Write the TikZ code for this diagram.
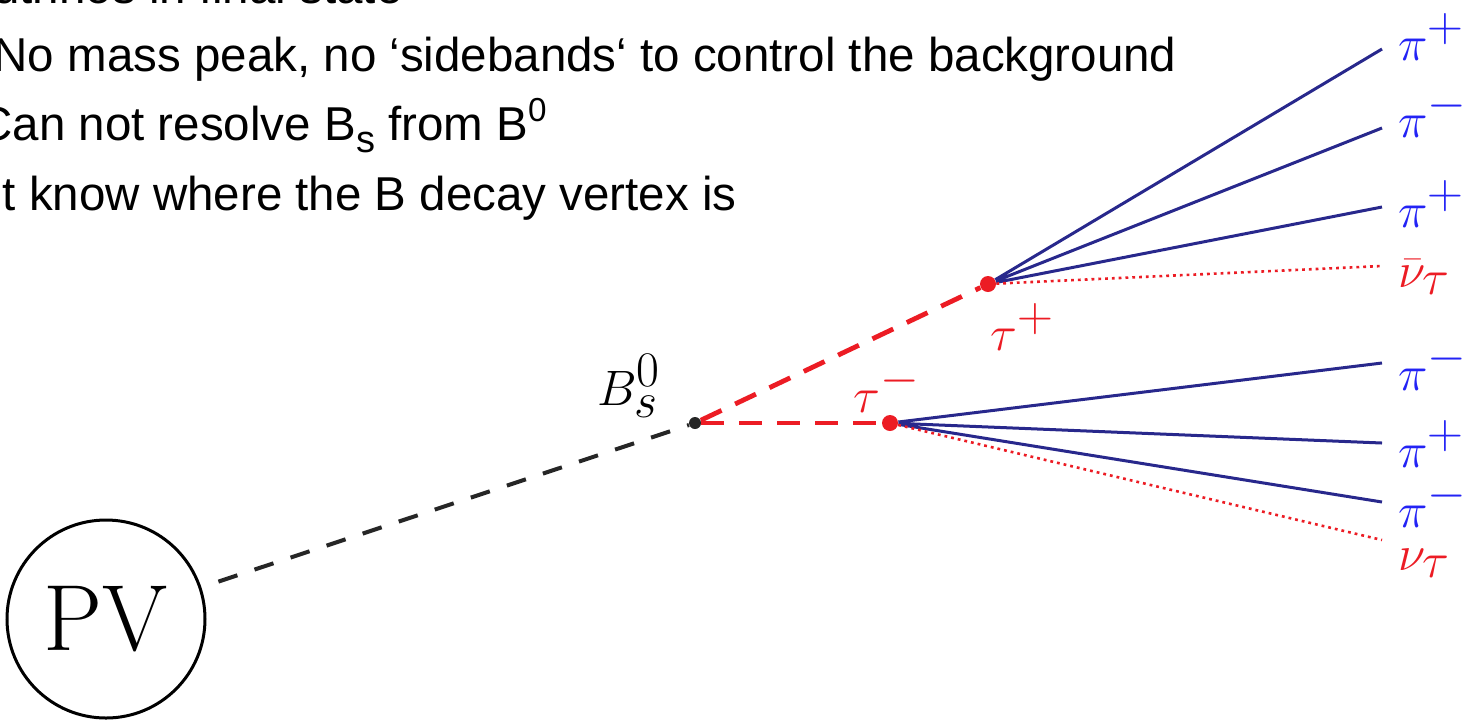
\documentclass[tikz,border=0pt]{standalone}
\usepackage{fontspec}
\newfontfamily\slidefont{Liberation Sans}
\definecolor{taured}{RGB}{236,28,36}
\definecolor{pionblue}{RGB}{35,35,245}
\definecolor{trackblue}{RGB}{40,40,140}
\tikzset{math/.style = {execute at begin node=$, execute at end node=$}}
\tikzset{slide/.style = {font=\slidefont\fontsize{23.75}{28}\selectfont, inner sep=0pt, anchor=base east},
  pion/.style = {math, font=\fontsize{35}{40}\selectfont, text=pionblue, inner sep=0pt, anchor=base west},
  nu/.style = {pion, text=taured},
  taulbl/.style = {math, font=\fontsize{36}{42}\selectfont, text=taured, inner sep=0pt, anchor=base west},
  vtx/.style = {circle, inner sep=0pt, minimum size=8pt},
  track/.style = {trackblue, line width=1.5pt},
  nutrack/.style = {taured, line width=1.3pt, dash pattern=on 1.4pt off 2pt},
  taudash/.style = {taured, line width=2.4pt, dash pattern=on 11.5pt off 7.5pt},
  bdash/.style = {black!85, line width=2pt, dash pattern=on 10pt off 9pt}}
\newcommand{\lowsub}[1]{\raisebox{-6pt}{\fontsize{19}{20}\selectfont #1}}

\begin{document}
\begin{tikzpicture}[x=0.5pt, y=-0.5pt]
  \useasboundingbox (0,0) rectangle (1470,719);
  \clip (0,0) rectangle (1470,719);
  \node[slide] (line1) at (403,3) {neutrinos in final state};
  \node[slide] (line2) at (1177,71) {No mass peak, no ‘sidebands‘ to control the background};
  \node[slide] (line3) at (548,140) {Can not resolve B\lowsub{s} from B\textsuperscript{0}};
  \node[slide] (line4) at (737,210) {t know where the B decay vertex is};

  \node[draw, circle, line width=1.5pt, minimum size=99pt, inner sep=0pt,
    font=\fontsize{47}{50}\selectfont] (pv) at (106,619) {PV};
  \node[vtx, fill=black!85, minimum size=6pt] (bs) at (695,423) {};
  \node[vtx, fill=taured] (taum) at (890,423) {};
  \node[vtx, fill=taured] (taup) at (988,284) {};
  \node[taulbl] (bslbl) at (597,405) {\textcolor{black}{B_s^0}};
  \node[taulbl] (taumlbl) at (853,412) {\tau^-};
  \node[taulbl] (tauplbl) at (990,350) {\tau^+};

  \draw[bdash, shorten <=9pt] (pv) -- (bs);
  \draw[taudash] (bs) -- (taup);
  \draw[taudash] (bs) -- (taum);

  \coordinate (e1) at (1382,49);
  \coordinate (e2) at (1382,128);
  \coordinate (e3) at (1382,207);
  \coordinate (e4) at (1382,266);
  \coordinate (e5) at (1382,363);
  \coordinate (e6) at (1382,443);
  \coordinate (e7) at (1382,502);
  \coordinate (e8) at (1382,540);
  \draw[track] (taup) -- (e1) (taup) -- (e2) (taup) -- (e3);
  \draw[nutrack] (taup) -- (e4);
  \draw[track] (taum) -- (e5) (taum) -- (e6) (taum) -- (e7);
  \draw[nutrack] (taum) -- (e8);

  \node[pion] (p1) at (1398,60) {\pi^+};
  \node[pion] (p2) at (1398,137) {\pi^-};
  \node[pion] (p3) at (1398,227) {\pi^+};
  \node[nu] (n1) at (1398,287) {\bar\nu_\tau};
  \node[pion] (p4) at (1398,390) {\pi^-};
  \node[pion] (p5) at (1398,467) {\pi^+};
  \node[pion] (p6) at (1398,527) {\pi^-};
  \node[nu] (n2) at (1398,570) {\nu_\tau};
\end{tikzpicture}
\end{document}
